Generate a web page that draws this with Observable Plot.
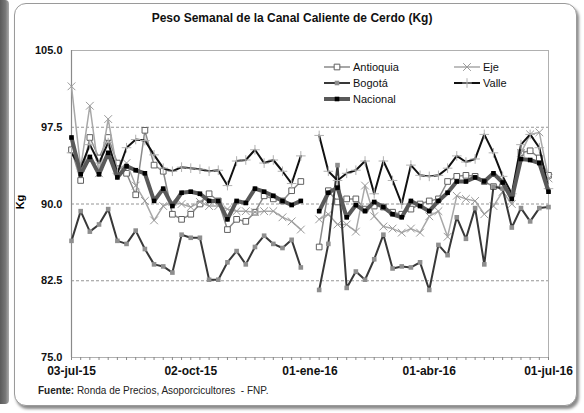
<!DOCTYPE html>
<html><head><meta charset="utf-8">
<script src="https://cdn.jsdelivr.net/npm/d3@7"></script>
<script src="https://cdn.jsdelivr.net/npm/@observablehq/plot@0.6"></script>
<style>
body{margin:0;background:#fff;font-family:"Liberation Sans",Arial,sans-serif;}
#wrap{position:relative;width:584px;height:413px;overflow:hidden;background:#fff;}
#leftbar{position:absolute;left:0;top:0;width:9px;height:404px;background:linear-gradient(to right,#5a5a5a,#777 60%,#aaa);border-radius:0 4px 4px 0;}
#panel{position:absolute;left:14px;top:3px;width:561px;height:401px;border:1px solid #9a9a9a;border-radius:12px;box-shadow:2px 3px 3px #8a8a8a;background:#fff;}
#title{position:absolute;left:0;width:584px;top:11px;text-align:center;font-weight:bold;font-size:12px;color:#111;}
#foot{position:absolute;left:38px;top:385px;font-size:10px;color:#222;}
#ylab{position:absolute;left:13px;top:196px;font-weight:bold;font-size:11px;transform:rotate(-90deg);transform-origin:center;}
#chart{position:absolute;left:0;top:0;}
</style></head>
<body>
<div id="wrap">
  <div id="leftbar"></div>
  <div id="panel"></div>
  <div id="chart"></div>
  <div id="title">Peso Semanal de la Canal Caliente de Cerdo (Kg)</div>
  <div id="ylab">Kg</div>
  <div id="foot"><b>Fuente:</b> Ronda de Precios, Asoporcicultores &nbsp;- FNP.</div>
</div>
<script>
const dates = ["2015-07-03","2015-07-10","2015-07-17","2015-07-24","2015-07-31","2015-08-07","2015-08-14","2015-08-21","2015-08-28",
"2015-09-04","2015-09-11","2015-09-18","2015-09-25","2015-10-02","2015-10-09","2015-10-16","2015-10-23","2015-10-30",
"2015-11-06","2015-11-13","2015-11-20","2015-11-27","2015-12-04","2015-12-11","2015-12-18","2015-12-25",
"2016-01-01","2016-01-08","2016-01-15","2016-01-22","2016-01-29","2016-02-05","2016-02-12","2016-02-19","2016-02-26",
"2016-03-04","2016-03-11","2016-03-18","2016-03-25","2016-04-01","2016-04-08","2016-04-15","2016-04-22","2016-04-29",
"2016-05-06","2016-05-13","2016-05-20","2016-05-27","2016-06-03","2016-06-10","2016-06-17","2016-06-24","2016-07-01"];

const antioquia = [95.3,92.3,96.5,94.5,96.5,94.0,93.0,90.9,97.2,93.8,93.2,89.0,88.5,89.0,90.0,91.0,90.3,87.5,88.5,88.3,
89.2,90.8,90.5,90.3,91.3,92.2,null,85.8,91.3,90.2,90.5,90.5,89.5,89.8,89.7,89.2,89.0,89.5,90.0,90.3,
90.5,92.2,92.7,92.8,92.7,92.2,91.7,91.7,91.0,95.0,95.2,94.5,92.8];
const eje = [101.5,93.5,99.6,93.0,98.3,93.2,94.0,91.8,90.3,88.4,89.8,90.2,90.0,89.7,90.2,89.8,89.8,89.5,89.3,89.3,
89.2,89.3,89.3,88.7,88.3,87.5,null,88.5,89.0,88.0,88.0,87.3,91.8,88.8,87.8,87.6,87.2,87.6,87.2,88.8,
89.3,86.8,90.8,90.5,90.3,89.0,89.8,91.2,90.0,95.0,96.8,97.0,92.5];
const bogota = [86.4,89.3,87.3,88.0,89.5,86.4,86.1,87.4,85.6,84.1,83.9,83.3,87.0,86.7,86.7,82.6,82.6,84.3,85.4,84.1,
85.8,86.9,86.1,85.7,86.5,83.8,null,81.6,86.1,93.8,81.8,83.4,82.6,84.6,87.0,83.7,83.9,83.8,84.3,81.6,
86.0,85.0,88.7,86.6,89.6,84.1,91.7,91.5,87.7,89.6,88.3,89.6,89.7];
const valle = [95.0,93.5,95.8,94.0,96.0,93.0,95.5,96.3,96.2,94.8,93.5,93.2,93.6,93.5,93.4,93.2,93.3,91.8,94.2,94.3,
95.3,94.0,94.3,93.2,92.0,94.7,null,96.7,93.2,92.3,93.0,93.3,94.2,91.0,94.2,92.3,90.0,93.8,92.8,92.7,
92.8,93.5,94.7,94.1,94.4,96.8,95.0,92.7,91.0,95.8,96.8,95.5,91.5];
const nacional = [96.5,92.9,94.6,92.9,95.0,92.6,93.7,93.3,93.0,90.3,91.5,89.8,91.1,91.2,91.0,90.3,90.3,88.5,90.3,90.1,
91.5,91.2,90.8,90.3,89.9,90.3,null,89.3,91.1,91.6,88.7,89.9,89.3,90.2,89.7,89.0,88.7,90.3,89.8,89.3,
90.3,91.1,92.2,92.2,92.6,92.2,93.0,92.1,90.5,94.4,94.3,94.0,91.2];

const yTicks = [75, 82.5, 90, 97.5, 105];
const gridValues = [82.5, 90, 97.5];
const labelDates = ["2015-07-03","2015-10-02","2016-01-01","2016-04-01","2016-07-01"];
const xLabels = ["03-jul-15","02-oct-15","01-ene-16","01-abr-16","01-jul-16"];

const series = [
  {name:"Antioquia", values:antioquia, line:"#8a8a8a", lw:1.5, symbol:"square", r:3.2, fill:"white", stroke:"#606060", sw:1},
  {name:"Eje", values:eje, line:"#a8a8a8", lw:1.5, symbol:"times", r:3.6, fill:"none", stroke:"#9a9a9a", sw:1},
  {name:"Bogotá", values:bogota, line:"#383838", lw:2, symbol:"square", r:2.6, fill:"#8e8e8e", stroke:"none", sw:0},
  {name:"Valle", values:valle, line:"#111", lw:2, symbol:"plus", r:3.2, fill:"none", stroke:"#b0b0b0", sw:1},
  {name:"Nacional", values:nacional, line:"#595959", lw:4, symbol:"square", r:2.6, fill:"#000", stroke:"none", sw:0}
];

const parse = d3.utcParse("%Y-%m-%d");
const D = dates.map(parse);
const tables = series.map(s => s.values.map((v, i) => ({date: D[i], value: v})));

const marks = [
  Plot.ruleY(gridValues, {stroke:"#7a7a7a", strokeWidth:0.8, strokeDasharray:"3,2"}),
  Plot.frame({stroke:"#b0b0b0"}),
  Plot.ruleX([D[0]], {stroke:"#8a8a8a", strokeWidth:1.2}),
  Plot.axisY({ticks:yTicks, tickSize:0, tickPadding:9, tickFormat:d3.format(".1f"), fontWeight:"bold", fontSize:11, label:null}),
  Plot.axisX({ticks:D, tickSize:3, tickFormat:() => "", label:null, stroke:"#888"}),
  Plot.axisX({ticks:labelDates.map(parse), tickSize:0, tickPadding:9, tickFormat:(d, i) => xLabels[i], fontWeight:"bold", fontSize:12, label:null})
];
series.forEach((s, k) => {
  marks.push(Plot.line(tables[k], {x:"date", y:"value", stroke:s.line, strokeWidth:s.lw, curve:"linear"}));
  marks.push(Plot.dot(tables[k].filter(d => d.value != null), {x:"date", y:"value", symbol:s.symbol, r:s.r, fill:s.fill, stroke:s.stroke, strokeWidth:s.sw}));
});

const chart = Plot.plot({
  width:584, height:413,
  marginLeft:71, marginRight:36, marginTop:50, marginBottom:56,
  style:{fontFamily:"Liberation Sans, Arial, sans-serif", background:"transparent", color:"#111", overflow:"visible"},
  x:{type:"utc", domain:[D[0], D[D.length-1]]},
  y:{domain:[75, 105]},
  marks
});
document.getElementById("chart").appendChild(chart);

// legend
const lg = d3.select("#wrap").append("svg").attr("width",584).attr("height",413)
  .style("position","absolute").style("left","0px").style("top","0px");
const pos = [[324,67],[454,67],[324,83],[454,83],[324,99]];
series.forEach((s, j) => {
  const [x0, y0] = pos[j];
  const g = lg.append("g").attr("transform", `translate(${x0},${y0})`);
  g.append("line").attr("x1",0).attr("x2",26).attr("y1",0).attr("y2",0).attr("stroke",s.line).attr("stroke-width",s.lw);
  const sym = {square:d3.symbolSquare, times:d3.symbolTimes, plus:d3.symbolPlus}[s.symbol];
  g.append("path").attr("transform","translate(13,0)")
    .attr("d", d3.symbol(sym, Math.PI * s.r * s.r)())
    .attr("fill", s.fill).attr("stroke", s.stroke).attr("stroke-width", s.sw);
  g.append("text").attr("x",29).attr("y",4).text(s.name)
    .attr("font-family","Liberation Sans, Arial, sans-serif").attr("font-size",11).attr("fill","#111");
});
</script>
</body></html>
